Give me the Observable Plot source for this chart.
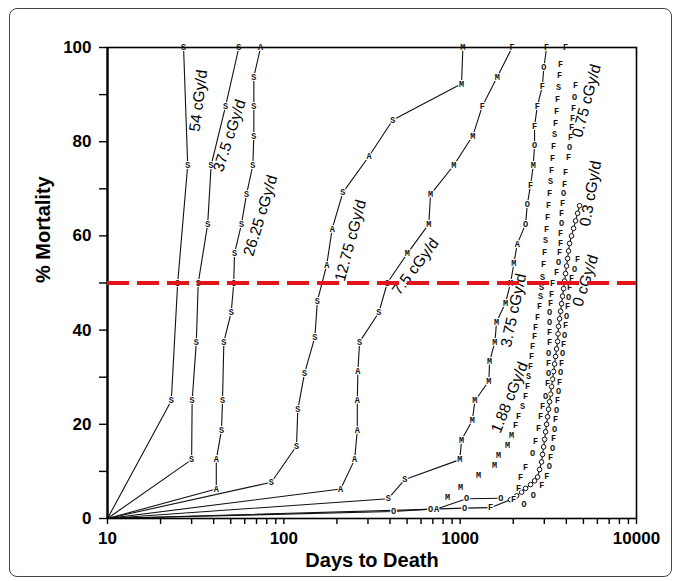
<!DOCTYPE html>
<html>
<head>
<meta charset="utf-8">
<script src="https://cdn.jsdelivr.net/npm/d3@7"></script>
<script src="https://cdn.jsdelivr.net/npm/@observablehq/plot@0.6"></script>
<style>
  html, body { margin: 0; padding: 0; background: #fff; }
  #wrap { position: relative; width: 680px; height: 581px; overflow: hidden; background: #fff; }
  #border { position: absolute; left: 9px; top: 8px; width: 661px; height: 567px; border: 1px solid #444; border-radius: 8px; pointer-events: none; }
  svg { display: block; }
</style>
</head>
<body>
<div id="wrap"><div id="border"></div></div>
<script>
// ---- data (days to death, cumulative % mortality, plotted letter; "o" = small circle) ----
const s54Days = [10, 23, 25, 28.5, 27];
const s54Pct  = [0, 25, 50, 75, 100];
const s54Mark = ["", "S", "S", "S", "S"];

const s37Days = [10, 30, 30.2, 31.9, 32.7, 37, 38.7, 46.7, 55.6];
const s37Pct  = [0, 12.5, 25, 37.5, 50, 62.5, 75, 87.5, 100];
const s37Mark = ["", "S", "S", "S", "S", "S", "S", "S", "S"];

const s26Days = [10, 41.4, 41.4, 44.3, 44.9, 45.7, 50.3, 52.0, 52.5, 57.5, 61.4, 66.7, 67.6, 67.6, 67.6, 73.8];
const s26Pct  = [0, 6.25, 12.5, 18.75, 25, 37.5, 43.75, 50, 56.25, 62.5, 68.75, 75, 81.25, 87.5, 93.75, 100];
const s26Mark = ["", "A", "A", "S", "S", "S", "S", "S", "S", "S", "S", "S", "S", "S", "S", "A"];

const s12Days = [10, 85, 118, 120, 131, 150, 155, 175, 188, 216, 304, 415, 1018, 1036];
const s12Pct  = [0, 7.7, 15.4, 23.1, 30.8, 38.5, 46.2, 53.8, 61.5, 69.2, 76.9, 84.6, 92.3, 100];
const s12Mark = ["", "S", "S", "S", "S", "S", "S", "A", "A", "S", "A", "S", "M", "M"];

const s7Days = [10, 210, 252, 261, 261, 263, 269, 346, 386, 501, 664, 679, 920, 1180, 1334, 1622, 1972];
const s7Pct  = [0, 6.25, 12.5, 18.75, 25, 31.25, 37.5, 43.75, 50, 56.25, 62.5, 68.75, 75, 81.25, 87.5, 93.75, 100];
const s7Mark = ["", "A", "A", "A", "A", "A", "S", "S", "S", "M", "M", "M", "M", "M", "F", "M", "F"];

const s3Days = [10, 391, 486, 996, 1018, 1172, 1212, 1455, 1468, 1574, 1608, 1809, 1931, 2017, 2108, 2350, 2403, 2508, 2598, 2642, 2642, 2737, 2922, 2985, 3092];
const s3Pct  = [0, 4.2, 8.3, 12.5, 16.7, 20.8, 25, 29.2, 33.3, 37.5, 41.7, 45.8, 50, 54.2, 58.3, 62.5, 66.7, 70.8, 75, 79.2, 83.3, 87.5, 91.7, 95.8, 100];
const s3Mark = ["", "S", "S", "M", "M", "M", "M", "M", "M", "M", "M", "M", "M", "M", "A", "O", "O", "F", "M", "O", "F", "F", "F", "O", "F"];

const s188Days = [848, 1005, 1272, 1567, 1651, 1857, 1957, 2062, 2145, 2259, 2350, 2412, 2443, 2508, 2541, 2575, 2642, 2677, 2748, 2821, 2858, 2895, 2934, 2972, 3012, 3051, 3092, 3132, 3173, 3215, 3257, 3300, 3343, 3387, 3431, 3476, 3522, 3569, 3615, 3663, 3711, 3961];
const s188Pct  = [4.5, 6.6, 9.1, 11.3, 13.4, 15.5, 17.6, 19.7, 21.8, 23.9, 26, 28.1, 30.2, 32.3, 34.4, 36.5, 38.6, 40.7, 42.8, 45, 47.1, 49.2, 51.3, 54, 56.5, 59, 61.5, 64, 66.5, 69, 71.5, 74, 76.5, 79, 81.5, 84, 86.5, 89, 91.5, 94, 96.5, 100];
const s188Mark = "MMMMMMMFFSFFSFFFFFFFSSSFFSFFFFSFFFSFFFSFFF".split("");

const s075Days = [2009, 2145, 2201, 2350, 2575, 2677, 2784, 2858, 2934, 3051, 3132, 3173, 3173, 3173, 3215, 3215, 3215, 3215, 3257, 3300, 3343, 3522, 3615, 3663, 3711, 3711, 3759, 3759, 3809, 3859, 3909, 3961, 4118, 4173, 4229, 4283, 4340, 4397, 4456, 4514];
const s075Pct  = [4, 6.5, 8.7, 10.8, 13.8, 16.5, 19.2, 21.6, 23.8, 26, 28.7, 30.8, 32.9, 35, 37.4, 39.5, 41.6, 43.7, 45.6, 47.6, 50, 52.2, 54.4, 56.5, 58.5, 60.5, 62.6, 64.8, 67, 69, 71, 73.5, 76.6, 78.8, 81, 83, 85, 87, 89.4, 92];
const s075Mark = "FFFFOFFFFOFOFOFFOOFFFFOFFFOFFOFFFOFFFFOF".split("");

const s03Days = [10, 419, 679, 1059, 1487, 1931, 2089, 2230, 2350, 2508, 2642, 2748, 2821, 2895, 2934, 2972, 3012, 3051, 3092, 3132, 3173, 3215, 3257, 3300, 3343, 3387, 3431, 3476, 3522, 3569, 3592, 3615, 3663, 3711, 3759, 3809, 3859, 3909, 3961, 4013, 4066, 4118, 4173, 4283, 4397, 4514, 4634, 4757];
const s03Pct  = [0, 1.5, 2.0, 2.2, 2.3, 4.0, 4.8, 5.6, 6.4, 7.2, 8.0, 8.8, 10.4, 12, 13.6, 15.2, 16.8, 18.4, 20, 21.6, 23.2, 24.8, 26.4, 28, 29.6, 31.2, 32.8, 34.4, 36, 37.6, 39.2, 40.8, 42.4, 44, 45.6, 47.2, 48.8, 50.4, 52, 53.6, 55.2, 56.8, 58.4, 60, 61.6, 63.2, 64.8, 66.4];
const s03Mark = ["", "O", "O", "O", "F"].concat(new Array(43).fill("o"));

const s0LineDays = [10, 735, 1087, 1700];
const s0LinePct  = [0, 2.0, 4.2, 4.3];
const s0LineMark = ["", "A", "O", "O"];

const s0Days = [2300, 2600, 2900, 3100, 3200, 3257, 3343, 3387, 3431, 3476, 3522, 3569, 3615, 3663, 3711, 3759, 3809, 3859, 3909, 3961, 4013, 4066, 4118, 4173, 4283, 4456, 4634];
const s0Pct  = [3, 5, 7, 9, 11, 13, 15, 17, 19, 21, 23, 25, 27, 29, 31, 33, 35, 37, 39, 41, 43, 45, 47, 49, 51, 53, 55];
const s0Mark = "OOFFOFOFOFOFOFOFOFOFOFOFFOF".split("");

// dose-rate annotations
const labelText  = ["54 cGy/d", "37.5 cGy/d", "26.25 cGy/d", "12.75 cGy/d", "7.5 cGy/d", "3.75 cGy/d", "1.88 cGy/d", "0.75 cGy/d", "0.3 cGy/d", "0 cGy/d"];
const labelDays  = [32.8, 49.2, 73.8, 239, 558, 2009, 1906, 5212, 5495, 5140];
const labelPct   = [88.7, 81.3, 64.3, 59, 53.5, 44.2, 25.7, 88.7, 69, 50.5];
const labelAngle = [-83, -72, -73, -75, -53, -78, -68, -75, -80, -72];

// axis tick labels
const xTickLabels = [10, 100, 1000, 10000];
const yTickLabels = [0, 20, 40, 60, 80, 100];
const medianLevel = 50;

// ---- build tables ----
function rows(name, days, pct, mark) {
  return days.map((d, i) => ({series: name, days: d, pct: pct[i], mark: mark[i]}));
}
const lineSeries = [
  rows("54", s54Days, s54Pct, s54Mark),
  rows("37.5", s37Days, s37Pct, s37Mark),
  rows("26.25", s26Days, s26Pct, s26Mark),
  rows("12.75", s12Days, s12Pct, s12Mark),
  rows("7.5", s7Days, s7Pct, s7Mark),
  rows("3.75", s3Days, s3Pct, s3Mark),
  rows("0.3", s03Days, s03Pct, s03Mark),
  rows("0line", s0LineDays, s0LinePct, s0LineMark)
].flat();
const scatterSeries = [
  rows("1.88", s188Days, s188Pct, s188Mark),
  rows("0.75", s075Days, s075Pct, s075Mark),
  rows("0", s0Days, s0Pct, s0Mark)
].flat();
const all = lineSeries.concat(scatterSeries);
const letterMarks = all.filter(d => d.mark !== "" && d.mark !== "o");
const circleMarks = all.filter(d => d.mark === "o");
const labels = labelText.map((t, i) => ({text: t, days: labelDays[i], pct: labelPct[i], angle: labelAngle[i]}));

const xTicks = [];
for (const base of [10, 100, 1000]) for (let k = 1; k <= 9; k++) xTicks.push(k * base);
xTicks.push(10000);
const yTicks = d3.range(0, 101, 10);

const font = "Liberation Sans, Arial, sans-serif";

const chart = Plot.plot({
  width: 680,
  height: 581,
  marginLeft: 107,
  marginRight: 44,
  marginTop: 47,
  marginBottom: 63,
  style: {fontFamily: font, background: "transparent", color: "#000"},
  x: {type: "log", domain: [10, 10000], label: null},
  y: {domain: [0, 100], label: null},
  marks: [
    Plot.line(lineSeries, {x: "days", y: "pct", z: "series", stroke: "#111", strokeWidth: 1.1}),
    Plot.dot(circleMarks, {x: "days", y: "pct", r: 2.3, fill: "white", stroke: "#111", strokeWidth: 1}),
    Plot.text(letterMarks, {x: "days", y: "pct", text: "mark", fontFamily: "Liberation Mono, DejaVu Sans Mono, monospace", fontWeight: "bold", fontSize: 8.5, fill: "#111", stroke: "white", strokeWidth: 2.2}),
    Plot.text(labels, {x: "days", y: "pct", text: "text", rotate: "angle", fontSize: 15.5, fill: "#000", fontFamily: font}),
    Plot.frame({stroke: "#000", strokeWidth: 1.6}),
    Plot.ruleX([10], {stroke: "#000", strokeWidth: 2.2}),
    Plot.axisX({ticks: xTicks, tickFormat: d => xTickLabels.includes(d) ? String(d) : "", tickSize: 6, tickPadding: 7, fontSize: 17, fontWeight: "bold", label: null, strokeWidth: 1.4}),
    Plot.axisY({ticks: yTicks, tickFormat: d => yTickLabels.includes(d) ? String(d) : "", tickSize: 8, tickPadding: 8, fontSize: 17, fontWeight: "bold", label: null, strokeWidth: 1.4}),
    Plot.text(["Days to Death"], {frameAnchor: "bottom", dy: 48, fontSize: 20, fontWeight: "bold", fontFamily: font, fill: "#000"}),
    Plot.text(["% Mortality"], {frameAnchor: "left", dx: -64, rotate: -90, fontSize: 20, fontWeight: "bold", fontFamily: font, fill: "#000"}),
    Plot.ruleY([medianLevel], {stroke: "#e3151a", strokeWidth: 4, strokeDasharray: "22,8"})
  ]
});
document.getElementById("wrap").prepend(chart);
</script>
</body>
</html>
